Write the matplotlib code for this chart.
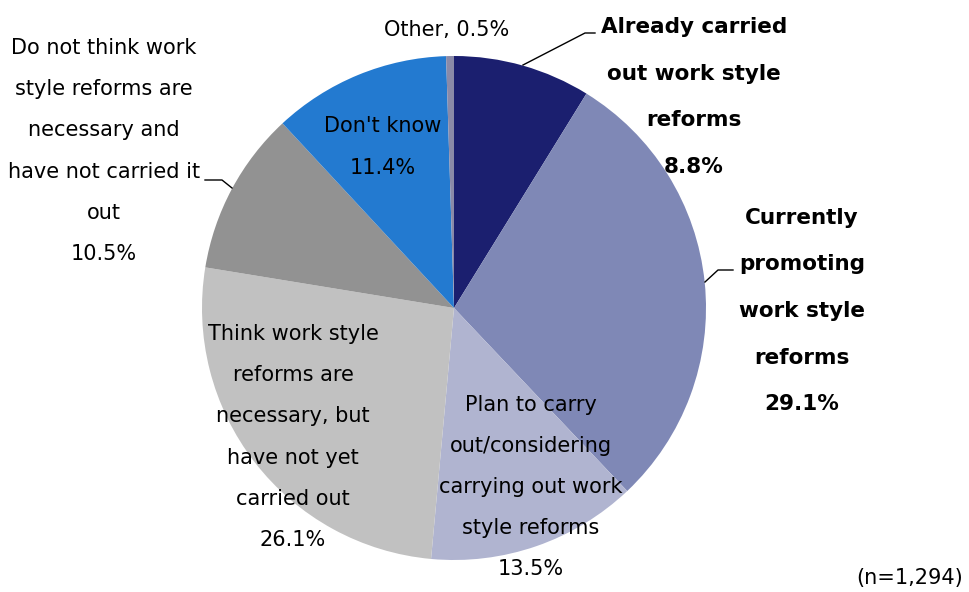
import matplotlib.pyplot as plt

plt.rcParams['font.family'] = 'DejaVu Sans'

# Survey shares, clockwise from 12 o'clock
labels = ['Already carried\nout work style\nreforms',
          'Currently\npromoting\nwork style\nreforms',
          'Plan to carry\nout/considering\ncarrying out work\nstyle reforms',
          'Think work style\nreforms are\nnecessary, but\nhave not yet\ncarried out',
          'Do not think work\nstyle reforms are\nnecessary and\nhave not carried it\nout',
          "Don't know",
          'Other']
shares = [8.8, 29.1, 13.5, 26.1, 10.5, 11.4, 0.5]
colors = ['#1b1f6f', '#7f88b6', '#b0b4d0', '#c1c1c1', '#929292', '#237ad0', '#8a8aa8']

H = 592
fig = plt.figure(figsize=(9.7, 5.92), dpi=100)
ax = fig.add_axes([0, 0, 1, 1])

cx, cy, r = 454, H - 308, 252
ax.pie(shares, colors=colors, startangle=90, counterclock=False,
       center=(cx, cy), radius=r, frame=True)
ax.set_xlim(0, 970)
ax.set_ylim(0, H)
ax.set_aspect('equal')
ax.axis('off')

def lab(i, x, y, bold=False):
    txt = labels[i] + '\n' + f'{shares[i]:.1f}%'
    ax.text(x, H - y, txt, ha='center', va='center',
            fontsize=15.5 if bold else 15,
            fontweight='bold' if bold else 'normal',
            linespacing=2.66 if bold else 2.32, color='black')

lab(0, 694, 97, bold=True)
lab(1, 802, 311, bold=True)
lab(2, 531, 487)
lab(3, 293, 437)
lab(4, 104, 151)
lab(5, 383, 147)
ax.text(447, H - 30, f'{labels[6]}, {shares[6]}%', ha='center', va='center', fontsize=15)
ax.text(963, H - 578, '(n=1,294)', ha='right', va='center', fontsize=15)

# leader lines
ax.plot([523, 585, 595], [H - 65, H - 33, H - 33], color='black', lw=1)
ax.plot([705, 718, 733], [H - 282, H - 270, H - 270], color='black', lw=1)
ax.plot([232, 222, 205], [H - 188, H - 180, H - 180], color='black', lw=1)

fig.savefig('out.png', dpi=100)
